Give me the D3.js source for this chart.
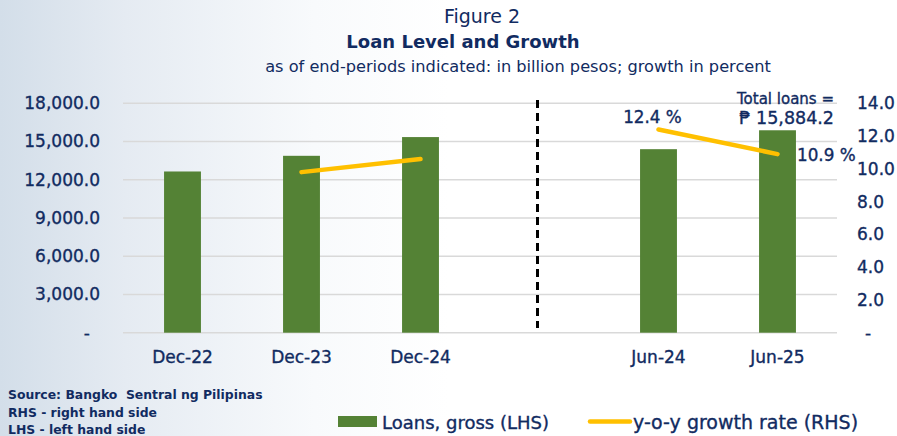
<!DOCTYPE html>
<html>
<head>
<meta charset="utf-8">
<script src="https://cdn.jsdelivr.net/npm/d3@7"></script>
<style>
  html, body { margin: 0; padding: 0; background: #fff; }
  svg { display: block; }
  text { font-family: "DejaVu Sans", sans-serif; fill: #112b61; }
  .med { stroke: #112b61; stroke-width: 0.35px; }
</style>
</head>
<body>
<svg id="chart" width="897" height="436"></svg>
<script>
// ---- data ----
const categories = ["Dec-22", "Dec-23", "Dec-24", "gap", "Jun-24", "Jun-25"];
const categoryLabels = ["Dec-22", "Dec-23", "Dec-24", "", "Jun-24", "Jun-25"];
const loans = [12650, 13880, 15350, null, 14400, 15884.2];
const growth = [null, 9.8, 10.6, null, 12.4, 10.9];
const leftTicks = [0, 3000, 6000, 9000, 12000, 15000, 18000];
const rightTicks = [0, 2, 4, 6, 8, 10, 12, 14];

const W = 897, H = 436;
const plot = { left: 123, right: 837, top: 103.3, bottom: 332.7 };
const navy = "#112b61", green = "#548235", yellow = "#ffc000";

const svg = d3.select("#chart");

// background gradient
const defs = svg.append("defs");
const grad = defs.append("linearGradient").attr("id", "bg").attr("x1", "0").attr("x2", "1").attr("y1", "0").attr("y2", "0");
grad.append("stop").attr("offset", "0").attr("stop-color", "#d3dee9");
grad.append("stop").attr("offset", "0.14").attr("stop-color", "#e5ebf2");
grad.append("stop").attr("offset", "0.35").attr("stop-color", "#f8fafc");
grad.append("stop").attr("offset", "0.5").attr("stop-color", "#ffffff");
grad.append("stop").attr("offset", "1").attr("stop-color", "#ffffff");
svg.append("rect").attr("width", W).attr("height", H).attr("fill", "url(#bg)");

// scales
const x = d3.scaleBand().domain(categories).range([plot.left, plot.right])
  .paddingInner(0.69).paddingOuter(0.345);
const yL = d3.scaleLinear().domain([0, 18000]).range([plot.bottom, plot.top]);
const yR = d3.scaleLinear().domain([0, 14]).range([plot.bottom, plot.top]);

// gridlines
svg.append("g").selectAll("line").data(leftTicks).join("line")
  .attr("x1", plot.left).attr("x2", plot.right)
  .attr("y1", d => yL(d)).attr("y2", d => yL(d))
  .attr("stroke", "#d9d9d9").attr("stroke-width", 1.5);

// left axis
const fmtL = d => d === 0 ? "-" : d3.format(",.1f")(d);
const gL = svg.append("g").attr("transform", `translate(${plot.left},0)`)
  .call(d3.axisLeft(yL).tickValues(leftTicks).tickFormat(fmtL).tickSize(0).tickPadding(23));
gL.select(".domain").remove();
gL.selectAll("text").attr("font-size", 17).attr("fill", navy).attr("class", "med")
  .style("font-family", '"DejaVu Sans", sans-serif')
  .attr("dx", d => d === 0 ? -10 : 0);

// right axis
const fmtR = d => d === 0 ? "-" : d3.format(".1f")(d);
const gR = svg.append("g").attr("transform", `translate(${plot.right},0)`)
  .call(d3.axisRight(yR).tickValues(rightTicks).tickFormat(fmtR).tickSize(0).tickPadding(20));
gR.select(".domain").remove();
gR.selectAll("text").attr("font-size", 17).attr("fill", navy).attr("class", "med")
  .style("font-family", '"DejaVu Sans", sans-serif')
  .attr("dx", d => d === 0 ? 8 : 0);

// bottom axis labels
const gB = svg.append("g").attr("transform", `translate(0,${plot.bottom})`)
  .call(d3.axisBottom(x).tickFormat((d, i) => categoryLabels[i]).tickSize(0).tickPadding(18));
gB.select(".domain").remove();
gB.selectAll("text").attr("font-size", 17).attr("fill", navy).attr("class", "med")
  .style("font-family", '"DejaVu Sans", sans-serif');

// bars
const barData = categories.map((c, i) => ({ c, v: loans[i] })).filter(d => d.v != null);
svg.append("g").selectAll("rect").data(barData).join("rect")
  .attr("x", d => x(d.c)).attr("width", x.bandwidth())
  .attr("y", d => yL(d.v)).attr("height", d => yL(0) - yL(d.v))
  .attr("fill", green);

// dashed divider
const gapX = x("gap") + x.bandwidth() / 2 - 2;
svg.append("line").attr("x1", gapX).attr("x2", gapX).attr("y1", 100).attr("y2", 328)
  .attr("stroke", "#000").attr("stroke-width", 3).attr("stroke-dasharray", "8,5");

// growth line
const lineData = categories.map((c, i) => ({ c, v: growth[i] }));
const line = d3.line().defined(d => d.v != null)
  .x(d => x(d.c) + x.bandwidth() / 2).y(d => yR(d.v));
svg.append("path").datum(lineData).attr("d", line)
  .attr("fill", "none").attr("stroke", yellow).attr("stroke-width", 4.5)
  .attr("stroke-linecap", "round");

// annotations
const ann = svg.append("g").attr("font-size", 16.8).attr("class", "med");
ann.append("text").attr("x", x("Jun-24") + x.bandwidth() / 2 - 6).attr("y", yR(12.4) - 7)
  .attr("text-anchor", "middle").text("12.4 %");
ann.append("text").attr("x", 834).attr("y", 104).attr("text-anchor", "end").attr("font-size", 15).text("Total loans =");
ann.append("text").attr("x", 834).attr("y", 124).attr("text-anchor", "end").attr("font-size", 17.5).text("₱ 15,884.2");
ann.append("text").attr("x", 797).attr("y", 161).text("10.9 %");

// titles
svg.append("text").attr("x", 482).attr("y", 23).attr("text-anchor", "middle")
  .attr("font-size", 19).text("Figure 2");
svg.append("text").attr("x", 463).attr("y", 48).attr("text-anchor", "middle")
  .attr("font-size", 18).attr("font-weight", "bold").text("Loan Level and Growth");
svg.append("text").attr("x", 518).attr("y", 72).attr("text-anchor", "middle")
  .attr("font-size", 16.2).text("as of end-periods indicated: in billion pesos; growth in percent");

// notes
const notes = ["Source: Bangko  Sentral ng Pilipinas", "RHS - right hand side", "LHS - left hand side"];
svg.append("g").selectAll("text").data(notes).join("text")
  .attr("x", 8).attr("y", (d, i) => 399 + i * 17.5)
  .attr("font-size", 12.4).attr("font-weight", "bold")
  .style("white-space", "pre").attr("xml:space", "preserve").text(d => d);

// legend
const lg = svg.append("g");
lg.append("rect").attr("x", 338).attr("y", 416).attr("width", 39).attr("height", 11).attr("fill", green);
lg.append("text").attr("x", 382).attr("y", 429).attr("font-size", 18).attr("class", "med").text("Loans, gross (LHS)");
lg.append("line").attr("x1", 590).attr("x2", 630).attr("y1", 421.5).attr("y2", 421.5)
  .attr("stroke", yellow).attr("stroke-width", 4.5).attr("stroke-linecap", "round");
lg.append("text").attr("x", 633).attr("y", 429).attr("font-size", 19).attr("class", "med").text("y-o-y growth rate (RHS)");
</script>
</body>
</html>
